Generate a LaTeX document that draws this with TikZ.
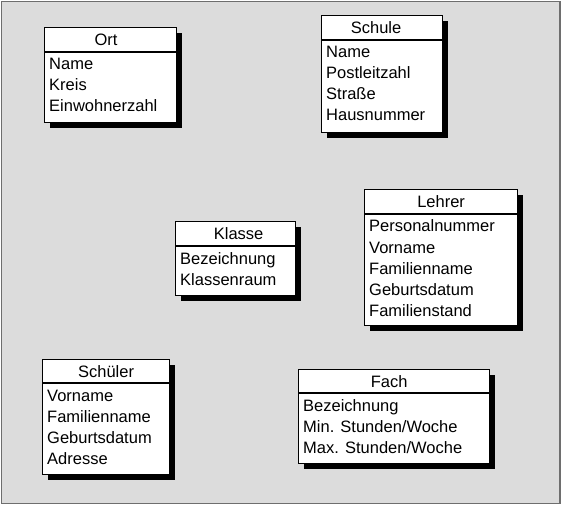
\documentclass[tikz,border=0pt]{standalone}
\usepackage{fontspec}
\setmainfont{Liberation Sans}
\usetikzlibrary{shadows,calc}
\definecolor{bg}{HTML}{DCDCDC}
\definecolor{framecol}{HTML}{6E6E6E}
\tikzset{
  entity/.style={draw=black, line width=1.2pt, fill=white, rectangle, anchor=north west, inner sep=0pt,
    drop shadow={opacity=1, fill=black, shadow xshift=5.5pt, shadow yshift=-5.5pt}},
  divider/.style={draw=black, line width=1.7pt},
  titletext/.style={font=\fontsize{16.5}{20}\selectfont, inner sep=0pt, anchor=base},
  attrtext/.style={font=\fontsize{16.5}{20}\selectfont, inner sep=0pt, anchor=base west},
}
\newcommand{\erentity}[8]{%
  \node[entity, minimum width=#3pt, minimum height=#4pt] (#1) at #2 {};
  \draw[divider] ([yshift=-#5pt]#1.north west) -- ([yshift=-#5pt]#1.north east);
  \node[titletext] (#1-title) at ([shift={(#6,#5/2+6.3)}]#1.north) {#7};
  \foreach \t [count=\i] in {#8} {
    \node[attrtext] (#1-\i) at ([shift={(5,#5+18+21*\i-21)}]#1.north west) {\t};
  }%
}
\begin{document}
\begin{tikzpicture}[x=1pt,y=-1pt]
  \useasboundingbox (0,0) rectangle (562,505);
  \draw[draw=framecol, line width=1.5pt, fill=bg] (1.5,1.5) rectangle (560,503.5);
  \erentity{ort}{(44,27)}{132}{95}{25}{-4.5}{Ort}{Name,Kreis,Einwohnerzahl}
  \erentity{schule}{(321,15)}{121}{117}{25}{-6}{Schule}{Name,Postleitzahl,Straße,Hausnummer}
  \erentity{klasse}{(175,221)}{120}{74}{25}{3}{Klasse}{Bezeichnung,Klassenraum}
  \erentity{lehrer}{(364,189)}{153}{136}{25}{0}{Lehrer}{Personalnummer,Vorname,Familienname,Geburtsdatum,Familienstand}
  \erentity{schueler}{(42,359)}{127}{115}{24}{0}{Schüler}{Vorname,Familienname,Geburtsdatum,Adresse}
  \erentity{fach}{(298,369)}{191}{94}{24}{-5}{Fach}{Bezeichnung,Min. Stunden/Woche,Max. Stunden/Woche}
\end{tikzpicture}
\end{document}
